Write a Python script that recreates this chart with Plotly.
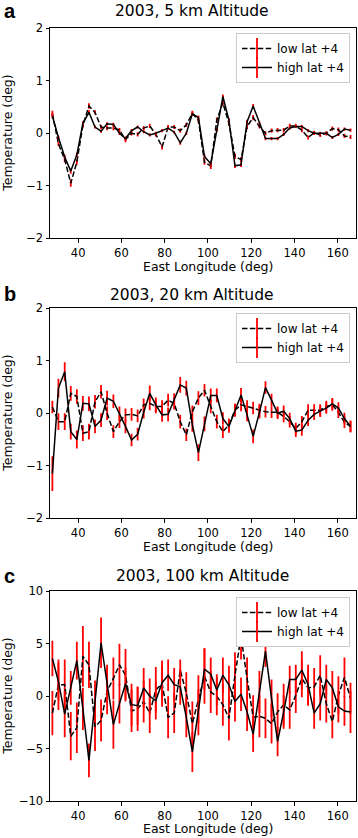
import plotly.graph_objects as go

W, H = 358, 838

lon = [28.1, 30.9, 33.8, 36.6, 39.4, 42.2, 45.0, 47.8, 50.6, 53.4,
       56.3, 59.1, 61.9, 64.7, 67.5, 70.3, 73.1, 75.9, 78.8, 81.6,
       84.4, 87.2, 90.0, 92.8, 95.6, 98.4, 101.3, 104.1, 106.9, 109.7,
       112.5, 115.3, 118.1, 120.9, 123.8, 126.6, 129.4, 132.2, 135.0, 137.8,
       140.6, 143.4, 146.3, 149.1, 151.9, 154.7, 157.5, 160.3, 163.1, 165.9]

x_ticks = [40, 60, 80, 100, 120, 140, 160]
y_ticks_small = [-2, -1, 0, 1, 2]
y_ticks_big = [-10, -5, 0, 5, 10]

titles = ["2003, 5 km Altitude", "2003, 20 km Altitude", "2003, 100 km Altitude"]
panel_labels = ["a", "b", "c"]
series_names = ["low lat +4", "high lat +4"]

# panel a (5 km)
a_low = [0.38, -0.2, -0.5, -0.95, -0.55, 0.15, 0.52, 0.4, 0.12, 0.1,
         0.1, 0.06, -0.12, 0.0, -0.02, 0.1, 0.14, -0.02, -0.26, 0.12,
         0.12, 0.05, 0.16, 0.38, 0.25, -0.55, -0.62, 0.25, 0.58, 0.19,
         -0.44, -0.5, 0.13, 0.3, 0.13, 0.0, 0.05, 0.06, 0.06, 0.14,
         0.14, 0.06, -0.08, 0.01, -0.03, 0.0, 0.09, 0.07, -0.05, -0.07]
a_low_err = [0.05, 0.04, 0.05, 0.07, 0.05, 0.04, 0.05, 0.04, 0.04, 0.04,
             0.04, 0.04, 0.05, 0.04, 0.04, 0.04, 0.04, 0.04, 0.05, 0.04,
             0.04, 0.04, 0.04, 0.05, 0.05, 0.05, 0.06, 0.05, 0.05, 0.05,
             0.05, 0.05, 0.05, 0.05, 0.04, 0.04, 0.04, 0.04, 0.04, 0.04,
             0.04, 0.04, 0.04, 0.04, 0.04, 0.04, 0.04, 0.04, 0.04, 0.04]
a_high = [0.33, -0.08, -0.45, -0.72, -0.41, 0.19, 0.40, 0.12, 0.04, 0.18,
          0.17, 0.0, -0.1, 0.05, 0.12, 0.03, -0.03, 0.0, 0.05, 0.1,
          0.02, -0.18, 0.0, 0.37, 0.3, -0.44, -0.58, 0.06, 0.70, 0.25,
          -0.62, -0.60, 0.22, 0.52, 0.19, -0.10, -0.10, -0.10, -0.02, 0.10,
          0.13, 0.13, 0.05, 0.0, 0.0, 0.0, -0.08, -0.02, 0.08, 0.06]
a_high_err = [0.05, 0.04, 0.04, 0.05, 0.04, 0.04, 0.04, 0.03, 0.03, 0.03,
              0.03, 0.03, 0.04, 0.03, 0.03, 0.03, 0.03, 0.03, 0.03, 0.03,
              0.03, 0.04, 0.03, 0.04, 0.04, 0.04, 0.04, 0.04, 0.04, 0.04,
              0.04, 0.04, 0.04, 0.04, 0.03, 0.03, 0.03, 0.03, 0.03, 0.03,
              0.03, 0.03, 0.03, 0.03, 0.03, 0.03, 0.03, 0.03, 0.03, 0.03]

# panel b (20 km)
b_low = [0.12, -0.16, -0.16, 0.38, 0.32, -0.38, -0.35, 0.22, 0.41, 0.0,
         -0.35, -0.16, -0.03, -0.02, -0.05, 0.16, 0.19, 0.13, 0.13, 0.25,
         0.19, -0.16, -0.41, 0.03, 0.29, 0.44, 0.13, -0.16, -0.35, -0.22,
         0.06, 0.16, 0.13, 0.1, 0.06, 0.03, 0.02, 0.02, -0.06, -0.16,
         -0.29, -0.16, 0.06, 0.06, 0.06, 0.13, 0.16, 0.02, -0.17, -0.25]
b_low_err = [0.12, 0.16, 0.16, 0.14, 0.14, 0.15, 0.15, 0.13, 0.13, 0.13,
             0.12, 0.12, 0.12, 0.12, 0.12, 0.12, 0.13, 0.13, 0.12, 0.12,
             0.12, 0.13, 0.12, 0.12, 0.13, 0.12, 0.13, 0.13, 0.12, 0.12,
             0.12, 0.12, 0.12, 0.12, 0.12, 0.11, 0.11, 0.11, 0.11, 0.11,
             0.11, 0.11, 0.11, 0.11, 0.11, 0.11, 0.11, 0.11, 0.11, 0.11]
b_high = [-1.15, 0.48, 0.79, -0.35, -0.5, 0.19, 0.18, -0.25, -0.13, 0.29,
          0.23, 0.0, -0.25, -0.51, -0.4, 0.02, 0.38, 0.16, -0.03, -0.02,
          0.25, 0.54, 0.48, -0.22, -0.75, -0.2, 0.34, 0.34, -0.1, -0.25,
          0.06, 0.35, -0.03, -0.44, 0.02, 0.49, 0.25, 0.0, 0.04, -0.1,
          -0.34, -0.32, -0.13, -0.02, 0.04, 0.1, 0.18, 0.1, -0.1, -0.25]
b_high_err = [0.33, 0.18, 0.18, 0.15, 0.17, 0.14, 0.14, 0.13, 0.13, 0.14,
              0.13, 0.13, 0.13, 0.12, 0.12, 0.12, 0.15, 0.14, 0.13, 0.13,
              0.13, 0.15, 0.14, 0.13, 0.16, 0.14, 0.13, 0.13, 0.12, 0.12,
              0.12, 0.13, 0.12, 0.13, 0.12, 0.12, 0.12, 0.11, 0.11, 0.11,
              0.11, 0.11, 0.11, 0.11, 0.11, 0.11, 0.11, 0.11, 0.11, 0.11]

# panel c (100 km)
c_low = [-1.6, 1.1, 1.1, -3.8, -3.0, 3.8, 3.0, -2.9, -2.3, 0.5,
         1.7, 3.0, 2.0, -1.4, -1.2, -0.5, -1.6, 0.6, 1.2, -2.0,
         -1.6, 2.5, 0.3, -2.6, -0.3, 1.9, 0.4, 0.0, -0.8, -2.1,
         2.0, 5.7, 1.7, -2.0, -1.9, -2.1, -2.6, -1.5, -0.8, -1.3,
         0.1, 1.7, 0.8, 0.9, 2.0, -0.7, -2.4, 0.1, 1.8, -0.2]
c_low_err = [2.1, 2.4, 2.4, 2.3, 2.4, 2.9, 2.2, 2.3, 2.0, 2.2,
             2.0, 2.0, 2.5, 2.0, 2.1, 2.0, 1.9, 2.2, 2.2, 2.0,
             1.9, 1.0, 2.0, 2.1, 2.3, 2.6, 2.0, 1.8, 2.0, 2.1,
             2.2, 2.2, 2.0, 2.1, 2.0, 1.9, 1.9, 1.8, 2.0, 1.8,
             1.7, 1.8, 1.7, 1.8, 1.9, 1.8, 1.6, 1.8, 1.9, 1.5]
c_high = [3.6, 1.4, -1.7, 0.8, 3.4, -1.2, -6.1, -0.5, 5.1, 1.2,
          -2.7, -0.7, 1.2, -0.8, -0.9, 0.8, 0.0, -0.4, 1.3, 2.0,
          1.1, 0.9, -2.0, -5.3, -1.5, 2.6, 2.1, 0.6, 2.0, 1.1,
          -0.5, 0.2, -1.5, -3.6, 0.4, 4.3, -0.2, -4.3, -1.5, 1.6,
          1.6, 2.5, 1.1, -1.6, -0.7, 1.6, 0.8, -1.0, -1.4, -1.5]
c_high_err = [1.7, 1.8, 2.2, 1.6, 1.8, 2.0, 1.6, 2.0, 2.4, 1.8,
              2.3, 1.9, 1.5, 2.0, 1.8, 1.9, 1.7, 1.8, 1.6, 1.5,
              1.6, 1.7, 1.9, 1.9, 2.2, 2.0, 1.6, 1.5, 1.7, 1.8,
              1.9, 1.6, 1.8, 1.7, 2.0, 1.5, 1.8, 1.4, 1.6, 1.3,
              1.4, 1.8, 1.9, 1.5, 1.6, 1.4, 1.6, 1.5, 1.4, 2.0]

panels = [
    (a_low, a_low_err, a_high, a_high_err, [-2, 2], y_ticks_small),
    (b_low, b_low_err, b_high, b_high_err, [-2, 2], y_ticks_small),
    (c_low, c_low_err, c_high, c_high_err, [-10, 10], y_ticks_big),
]

FONT = "DejaVu Sans, sans-serif"

# layout geometry (pixels)
plot_left, plot_right = 50, 355.7
plot_tops = [28.3, 308.3, 591.3]
plot_h = 210
title_centers = [(192, 11.3), (192, 294.6), (202, 575.6)]
label_centers = [(1.5, 11.2), (1.5, 293.7), (1.5, 575.7)]
xtitle_centers = [(208, 266.3), (208, 546.6), (208, 828.2)]
legend_tops = [33, 313, 597]


def fx(px):
    return px / W


def fy(py):
    return 1 - py / H


fig = go.Figure()
annotations = []
layout = dict(
    width=W, height=H,
    margin=dict(l=0, r=0, t=0, b=0, pad=0),
    paper_bgcolor="white", plot_bgcolor="white",
    font=dict(family=FONT, size=12, color="black"),
    showlegend=True,
)

dash_style = "5.5px,2.4px"

for k, (lo, lo_e, hi, hi_e, yr, yt) in enumerate(panels):
    n = "" if k == 0 else str(k + 1)
    xa, ya = "x" + n, "y" + n
    leg = "legend" + n
    for name, vals, errs, dash in [(series_names[0], lo, lo_e, dash_style),
                                   (series_names[1], hi, hi_e, "solid")]:
        fig.add_trace(go.Scatter(
            x=lon, y=vals, mode="lines", xaxis=xa, yaxis=ya,
            line=dict(color="black", width=1.5, dash=dash),
            error_y=dict(type="data", array=errs, visible=True,
                         color="red", thickness=1.8, width=0),
            showlegend=False, hoverinfo="skip",
        ))
        # legend-only entry (line with red error-bar glyph)
        fig.add_trace(go.Scatter(
            x=[None], y=[None], mode="lines+markers", xaxis=xa, yaxis=ya,
            name=name, legend=leg,
            line=dict(color="black", width=1.5, dash=dash),
            marker=dict(symbol="line-ns", size=15, color="red",
                        line=dict(color="red", width=1.8)),
        ))
    top = plot_tops[k]
    layout["xaxis" + n] = dict(
        domain=[fx(plot_left), fx(plot_right)], anchor=ya,
        range=[27, 168.3], tickvals=x_ticks, ticks="outside", ticklen=3.5,
        tickwidth=1, tickcolor="black", showline=True, linecolor="black",
        linewidth=1, mirror=True, showgrid=False, zeroline=False,
        automargin=False, tickfont=dict(size=11.5, color="black", family=FONT),
    )
    layout["yaxis" + n] = dict(
        domain=[fy(top + plot_h), fy(top)], anchor=xa,
        range=yr, tickvals=yt, ticks="outside", ticklen=3.5,
        tickwidth=1, tickcolor="black", showline=True, linecolor="black",
        linewidth=1, mirror=True, showgrid=False, zeroline=False,
        automargin=False, tickfont=dict(size=11.5, color="black", family=FONT),
    )
    layout[leg] = dict(
        x=fx(350), y=fy(legend_tops[k]), xanchor="right", yanchor="top",
        bgcolor="white", bordercolor="#cccccc", borderwidth=1,
        font=dict(size=12, color="black", family=FONT), traceorder="normal",
    )
    tx, ty = title_centers[k]
    annotations.append(dict(text=titles[k], x=fx(tx), y=fy(ty), xref="paper",
                            yref="paper", showarrow=False, xanchor="center",
                            yanchor="middle",
                            font=dict(size=15.5, color="black", family=FONT)))
    lx, ly = label_centers[k]
    annotations.append(dict(text="<b>" + panel_labels[k] + "</b>", x=fx(lx), y=fy(ly),
                            xref="paper", yref="paper", showarrow=False,
                            xanchor="left", yanchor="middle",
                            font=dict(size=20, color="black",
                                      family="Liberation Sans, Arial, sans-serif")))
    xx, xy = xtitle_centers[k]
    annotations.append(dict(text="East Longitude (deg)", x=fx(xx), y=fy(xy),
                            xref="paper", yref="paper", showarrow=False,
                            xanchor="center", yanchor="middle",
                            font=dict(size=12.5, color="black", family=FONT)))
    annotations.append(dict(text="Temperature (deg)", x=fx(7.5), y=fy(top + plot_h / 2),
                            xref="paper", yref="paper", showarrow=False,
                            xanchor="center", yanchor="middle", textangle=-90,
                            font=dict(size=12.5, color="black", family=FONT)))

layout["annotations"] = annotations
fig.update_layout(**layout)

fig.write_html("out.html", config={"displayModeBar": False},
               post_script="document.body.style.margin='0px';")
